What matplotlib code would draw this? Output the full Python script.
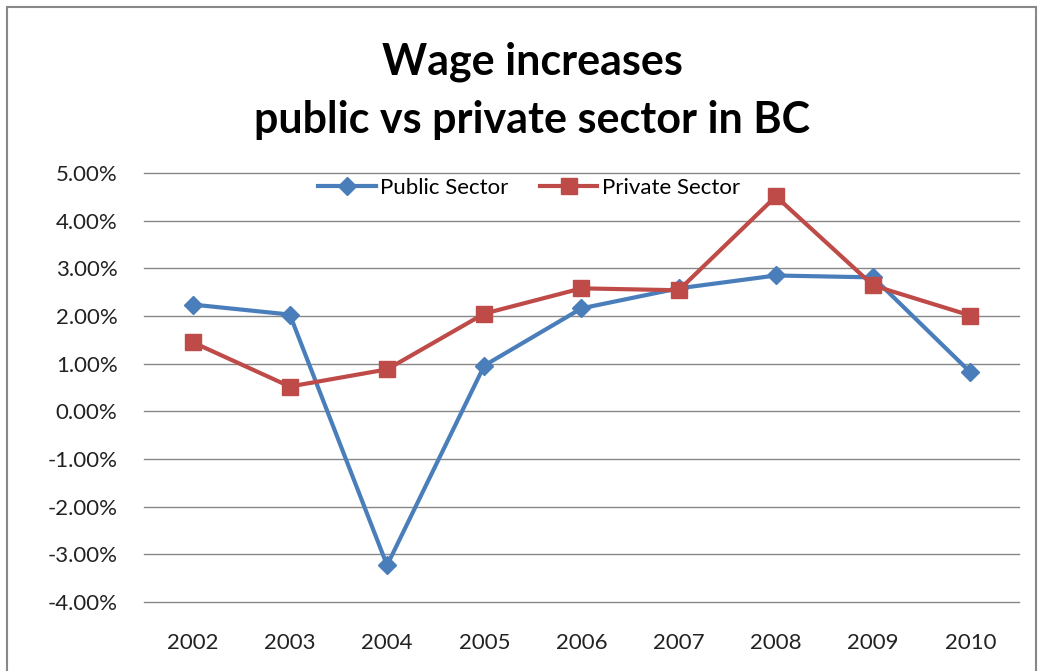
import matplotlib.pyplot as plt
from matplotlib.patches import Rectangle
from matplotlib.ticker import FuncFormatter

# Annual wage increases in BC (%)
years = ['2002', '2003', '2004', '2005', '2006', '2007', '2008', '2009', '2010']
public = [2.24, 2.03, -3.23, 0.96, 2.16, 2.58, 2.85, 2.81, 0.82]
private = [1.45, 0.52, 0.88, 2.05, 2.58, 2.54, 4.51, 2.64, 2.01]

plt.rcParams['font.family'] = ['Lato', 'DejaVu Sans']

W, H = 1042, 671
fig = plt.figure(figsize=(W / 100, H / 100), dpi=100)
fig.patches.append(Rectangle((7 / W, -0.1), (1036 - 7) / W, 1.1 - 7 / H,
                             transform=fig.transFigure, fill=False,
                             edgecolor='#888888', linewidth=1.5))

ax = fig.add_axes([144 / W, 1 - 602 / H, (1019 - 144) / W, (602 - 173) / H])
x = range(len(years))
ax.plot(x, public, color='#4a7ebb', linewidth=3, marker='D', markersize=9,
        label='Public Sector', zorder=3)
ax.plot(x, private, color='#be4b48', linewidth=3, marker='s', markersize=11,
        label='Private Sector', zorder=3)

ax.set_xlim(-0.5, len(years) - 0.5)
ax.set_ylim(-4, 5)
ax.set_yticks(range(-4, 6))
ax.yaxis.set_major_formatter(FuncFormatter(lambda v, p: f'{v:.2f}%'))
ax.set_xticks(list(x))
ax.set_xticklabels(years)
ax.grid(axis='y', color='#888888', linewidth=1)
for g in ax.get_ygridlines():
    g.set_clip_on(False)
ax.set_axisbelow(True)
for s in ax.spines.values():
    s.set_visible(False)
ax.tick_params(length=0, labelsize=16, colors='#222222')
ax.tick_params(axis='y', pad=19)
ax.tick_params(axis='x', pad=22)

ax.legend(loc='upper center', bbox_to_anchor=(0.44, 1.035), ncol=2, frameon=False,
          fontsize=16, handlelength=2.6, handletextpad=0.2, columnspacing=1.4)

fig.text(532 / W, 1 - 62 / H, 'Wage increases', ha='center', va='center',
         fontsize=31, fontweight='bold')
fig.text(532 / W, 1 - 120 / H, 'public vs private sector in BC', ha='center',
         va='center', fontsize=31, fontweight='bold')

fig.savefig('out.png', dpi=100)
